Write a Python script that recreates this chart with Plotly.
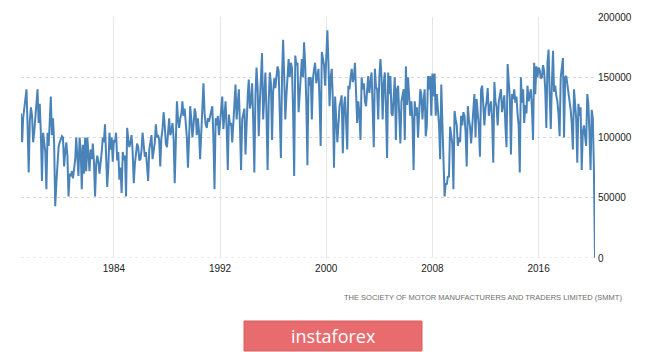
import pandas as pd
import plotly.graph_objects as go

# UK monthly car production (thousands of units), Jan..Dec
y1977 = [120, 96, 116, 125, 132, 140, 110, 71, 114, 125, 118, 96]
y1978 = [105, 118, 130, 140, 112, 128, 104, 64, 104, 98, 88, 57]
y1979 = [104, 93, 118, 134, 102, 116, 96, 43, 62, 82, 92, 96]
y1980 = [98, 101, 100, 76, 88, 96, 85, 51, 70, 68, 72, 66]
y1981 = [74, 82, 100, 80, 68, 100, 90, 57, 94, 70, 100, 72]
y1982 = [100, 85, 72, 90, 82, 95, 80, 51, 78, 85, 80, 70]
y1983 = [78, 88, 100, 96, 111, 90, 59, 75, 104, 90, 100, 80]
y1984 = [98, 96, 104, 81, 88, 65, 75, 54, 88, 81, 85, 51]
y1985 = [108, 98, 92, 96, 102, 88, 62, 78, 87, 95, 92, 81]
y1986 = [82, 90, 104, 96, 84, 88, 76, 64, 90, 95, 102, 82]
y1987 = [90, 96, 111, 100, 102, 98, 76, 100, 107, 121, 110, 95]
y1988 = [92, 105, 116, 102, 105, 112, 100, 62, 110, 130, 115, 108]
y1989 = [116, 120, 130, 118, 124, 111, 100, 75, 102, 126, 115, 100]
y1990 = [110, 124, 120, 102, 116, 105, 82, 100, 118, 145, 120, 111]
y1991 = [108, 116, 113, 118, 124, 126, 100, 57, 116, 110, 118, 102]
y1992 = [112, 122, 134, 107, 118, 130, 108, 73, 119, 110, 112, 96]
y1993 = [112, 130, 144, 115, 125, 140, 110, 73, 115, 120, 124, 86]
y1994 = [121, 135, 148, 124, 130, 145, 115, 71, 135, 158, 140, 101]
y1995 = [130, 150, 170, 115, 135, 154, 120, 73, 130, 154, 145, 98]
y1996 = [138, 149, 141, 150, 159, 155, 120, 83, 150, 181, 150, 115]
y1997 = [135, 148, 165, 150, 162, 158, 125, 68, 168, 160, 162, 121]
y1998 = [140, 155, 165, 150, 179, 160, 130, 77, 150, 143, 150, 115]
y1999 = [149, 157, 162, 145, 150, 157, 130, 93, 171, 165, 160, 143]
y2000 = [165, 189, 162, 126, 150, 157, 130, 75, 134, 120, 96, 110]
y2001 = [126, 130, 135, 87, 125, 134, 115, 90, 143, 140, 150, 157]
y2002 = [146, 150, 162, 140, 112, 130, 120, 98, 150, 140, 145, 130]
y2003 = [126, 140, 151, 137, 145, 154, 125, 92, 157, 142, 140, 115]
y2004 = [150, 165, 150, 115, 145, 154, 125, 83, 154, 136, 151, 120]
y2005 = [118, 134, 150, 98, 140, 143, 120, 95, 130, 136, 140, 98]
y2006 = [159, 127, 150, 134, 118, 130, 115, 73, 130, 118, 125, 100]
y2007 = [124, 140, 136, 115, 130, 140, 101, 110, 151, 140, 151, 118]
y2008 = [153, 134, 153, 118, 136, 125, 110, 82, 144, 112, 86, 51]
y2009 = [62, 61, 68, 67, 109, 100, 95, 57, 122, 115, 110, 93]
y2010 = [100, 96, 118, 110, 121, 118, 105, 76, 126, 115, 109, 95]
y2011 = [110, 125, 136, 100, 132, 120, 110, 84, 140, 143, 126, 110]
y2012 = [125, 130, 141, 118, 125, 130, 115, 79, 146, 130, 125, 110]
y2013 = [130, 137, 140, 121, 129, 135, 110, 92, 161, 141, 132, 86]
y2014 = [136, 132, 140, 129, 134, 120, 110, 71, 150, 129, 140, 112]
y2015 = [127, 120, 143, 130, 135, 140, 125, 98, 162, 136, 159, 150]
y2016 = [158, 156, 149, 150, 160, 155, 140, 108, 162, 173, 135, 107]
y2017 = [145, 172, 138, 143, 135, 130, 120, 101, 150, 160, 166, 100]
y2018 = [150, 151, 145, 134, 128, 123, 112, 90, 140, 123, 115, 79]
y2019 = [128, 118, 125, 73, 104, 110, 100, 93, 136, 128, 103, 73]
y2020 = [123, 116, 76, 0.2]

years = [y1977, y1978, y1979, y1980, y1981, y1982, y1983, y1984, y1985, y1986,
         y1987, y1988, y1989, y1990, y1991, y1992, y1993, y1994, y1995, y1996,
         y1997, y1998, y1999, y2000, y2001, y2002, y2003, y2004, y2005, y2006,
         y2007, y2008, y2009, y2010, y2011, y2012, y2013, y2014, y2015, y2016,
         y2017, y2018, y2019, y2020]
values = [v * 1000 for yr in years for v in yr]
dates = pd.date_range("1977-01-01", periods=len(values), freq="MS")

x_tick_years = ["1984", "1992", "2000", "2008", "2016"]
y_ticks = [0, 50000, 100000, 150000, 200000]
source_text = "THE SOCIETY OF MOTOR MANUFACTURERS AND TRADERS LIMITED (SMMT)"
logo_text = "instaforex"

W, H = 665, 352
L, R, T, B = 21, 595, 17, 258  # plot area in pixels


def px(xp):
    return (xp - L) / (R - L)


def py(yp):
    return (B - yp) / (B - T)


fig = go.Figure()
fig.add_trace(go.Scatter(
    x=dates, y=values, mode="lines",
    line=dict(color="#4a83b8", width=2),
    hoverinfo="skip", showlegend=False,
))

fig.update_layout(
    width=W, height=H,
    margin=dict(l=L, r=W - R, t=T, b=H - B, pad=0),
    paper_bgcolor="white", plot_bgcolor="white",
    font=dict(family="Liberation Sans, Arial, sans-serif", size=10, color="#222222"),
    xaxis=dict(
        range=[dates[0], dates[-1]],
        tickvals=[pd.Timestamp(y + "-01-01") for y in x_tick_years],
        ticktext=x_tick_years,
        showgrid=True, gridcolor="#e6e6e6", gridwidth=1,
        zeroline=False, showline=False, ticks="",
        ticklabelstandoff=3,
        tickfont=dict(size=10, color="#222222"),
    ),
    yaxis=dict(
        range=[0, 200000], side="right",
        tickvals=y_ticks, ticktext=[str(v) for v in y_ticks],
        showgrid=True, gridcolor="#d9d9d9", gridwidth=1, griddash="dot",
        zeroline=False, showline=False, ticks="",
        ticklabelstandoff=2,
        tickfont=dict(size=10, color="#222222"),
    ),
    shapes=[
        dict(type="line", xref="paper", yref="y", x0=0, x1=1, y0=0, y1=0,
             line=dict(color="#d9d9d9", width=1, dash="dot"), layer="below"),
        dict(type="rect", xref="paper", yref="paper",
             x0=px(244), x1=px(422), y0=py(351), y1=py(321),
             fillcolor="#e86b6d", line=dict(color="#d65f61", width=1),
             layer="above"),
    ],
    annotations=[
        dict(text=source_text, xref="paper", yref="paper",
             x=px(624), y=py(297), xanchor="right", yanchor="middle",
             showarrow=False,
             font=dict(size=7.5, color="#6e6e6e", family="Liberation Sans, Arial, sans-serif")),
        dict(text=logo_text, xref="paper", yref="paper",
             x=px(333), y=py(336), xanchor="center", yanchor="middle",
             showarrow=False,
             font=dict(size=18, color="white", family="Open Sans, sans-serif")),
    ],
)

fig.write_html("out.html")
